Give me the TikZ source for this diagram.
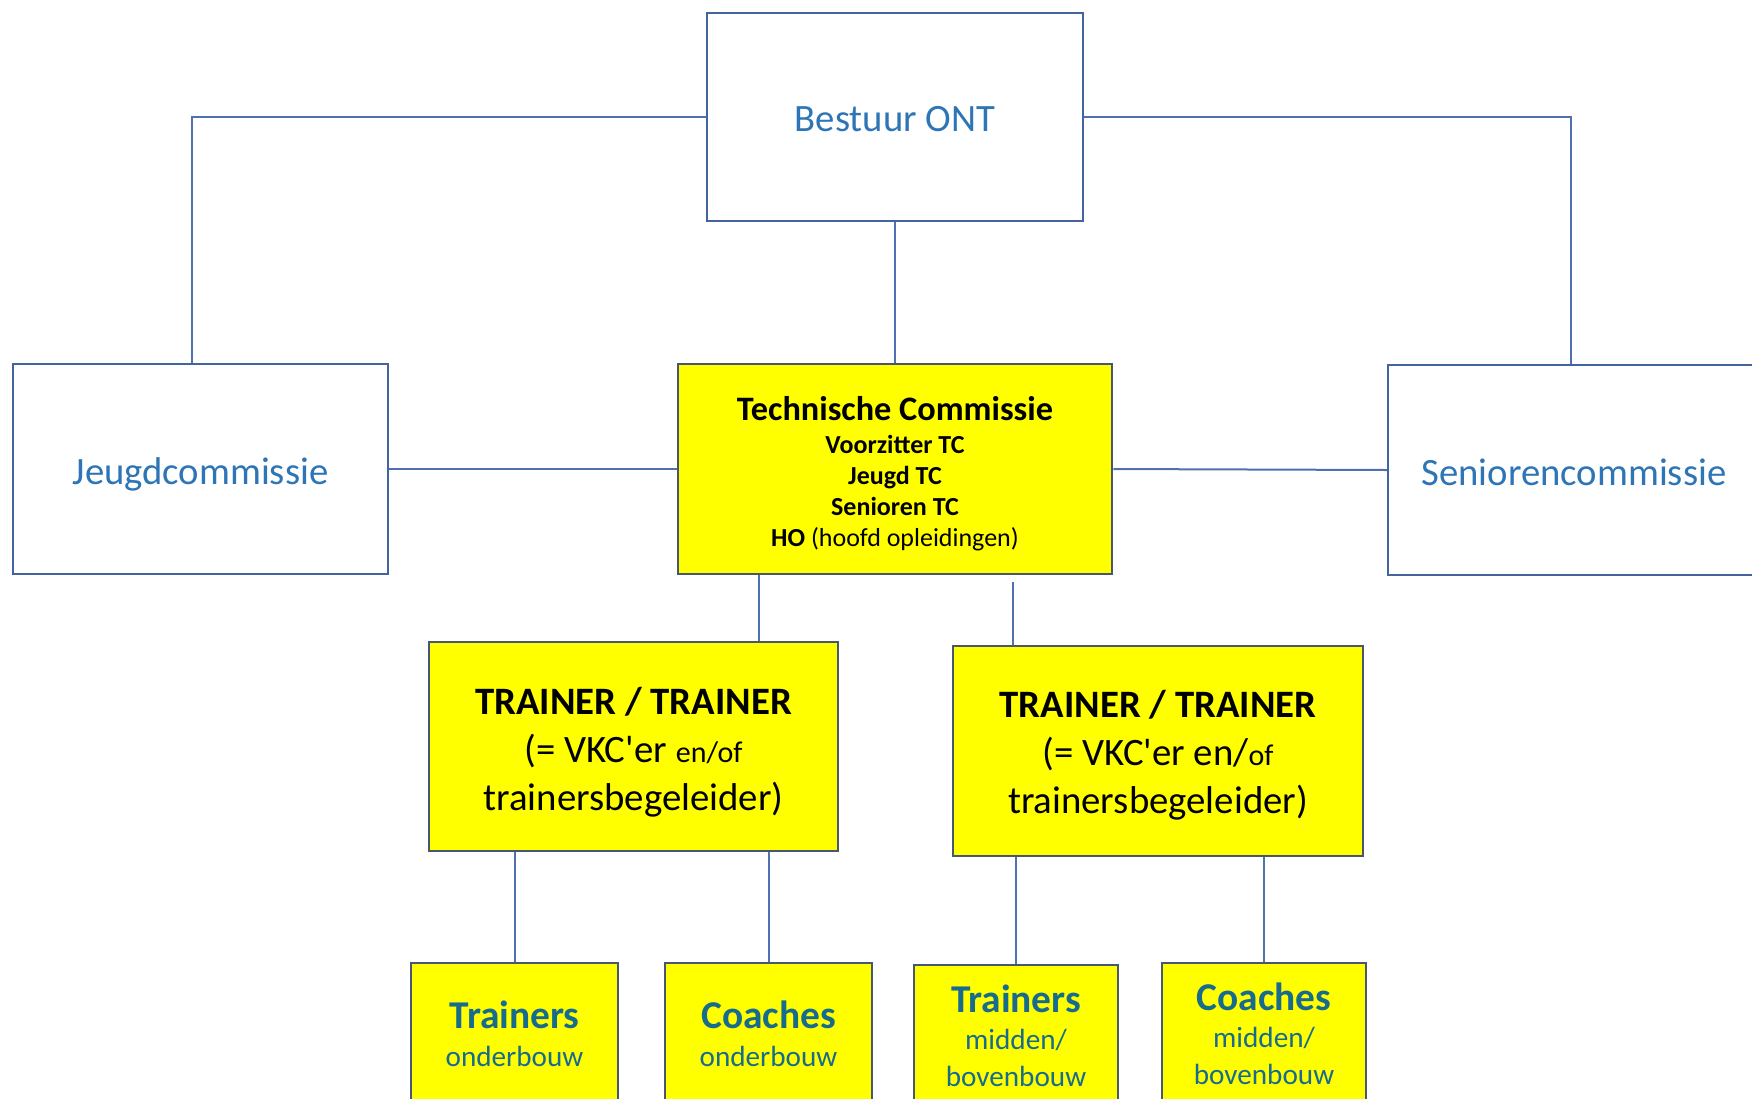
\documentclass[tikz,border=0pt]{standalone}
\usepackage{fontspec}
\setmainfont{Carlito}
\definecolor{txtblue}{RGB}{46,117,182}
\definecolor{linecol}{RGB}{79,113,178}
\definecolor{wborder}{RGB}{68,100,160}
\definecolor{yborder}{RGB}{72,86,110}
\definecolor{teal}{RGB}{23,107,140}
\definecolor{boxyellow}{RGB}{255,255,0}
\newcommand{\apo}{\XeTeXglyph\XeTeXcharglyph"0027\relax}
\tikzset{
  conn/.style={draw=linecol, line width=2pt},
  wbox/.style={draw=wborder, line width=2.5pt, fill=white, inner sep=0pt},
  ybox/.style={draw=yborder, line width=2.5pt, fill=boxyellow, inner sep=0pt},
  wtext/.style={text=txtblue, inner sep=0pt, font=\fontsize{38.7}{46}\selectfont},
  tctext/.style={inner sep=0pt, align=center, font=\fontsize{26}{31}\selectfont\bfseries},
  trtext/.style={inner sep=0pt, align=center, font=\fontsize{38.8}{48}\selectfont},
  bottext/.style={inner sep=0pt, align=center, text=teal, font=\fontsize{29.2}{37}\selectfont},
}
\begin{document}
\begin{tikzpicture}[x=1pt,y=-1pt]
\clip (0,0) rectangle (1752,1098);
\fill[white] (0,0) rectangle (1752,1098);

% boxes
\node[wbox, minimum width=376pt, minimum height=208pt] (bestuur) at (895,117) {};
\node[wbox, minimum width=375pt, minimum height=210pt] (jeugd) at (200.5,469) {};
\node[wbox, minimum width=372pt, minimum height=210pt] (sen) at (1574,470) {};
\node[ybox, minimum width=434pt, minimum height=210pt] (tc) at (895,469) {};
\node[ybox, minimum width=409pt, minimum height=209pt] (t1) at (633.5,746.5) {};
\node[ybox, minimum width=410pt, minimum height=210pt] (t2) at (1158,751) {};
\node[ybox, minimum width=207pt, minimum height=146pt] (b1) at (514.5,1036) {};
\node[ybox, minimum width=207pt, minimum height=146pt] (b2) at (768.5,1036) {};
\node[ybox, minimum width=204pt, minimum height=144pt] (b3) at (1016,1037) {};
\node[ybox, minimum width=204pt, minimum height=144pt] (b4) at (1264,1035) {};

% texts
\node[wtext] (bestuurT) at ([yshift=-2pt]bestuur.center) {Bestuur ONT};
\node[wtext] (jeugdT) at ([yshift=-5pt]jeugd.center) {Jeugdcommissie};
\node[wtext] (senT) at ([yshift=-2pt]sen.center) {Seniorencommissie};
\node[tctext] (tcT) at ([yshift=-4.5pt]tc.center)
  {{\fontsize{34.3}{35}\selectfont Technische Commissie}\\[2pt]
   Voorzitter TC\\ Jeugd TC\\ Senioren TC\\ HO {\mdseries (hoofd opleidingen)}};
\node[trtext] (t1T) at ([yshift=-5.5pt]t1.center)
  {\textbf{TRAINER / TRAINER}\\ (= VKC\apo er {\fontsize{30}{32}\selectfont en/of}\\ trainersbegeleider)};
\node[trtext] (t2T) at ([yshift=-4.5pt]t2.center)
  {\textbf{TRAINER / TRAINER}\\ (= VKC\apo er en/{\fontsize{30}{32}\selectfont of}\\ trainersbegeleider)};
\node[bottext] (b1T) at ([yshift=2.5pt]b1.center)
  {{\fontsize{39.4}{40}\selectfont\bfseries Trainers}\\[1pt] onderbouw};
\node[bottext] (b2T) at ([yshift=2.5pt]b2.center)
  {{\fontsize{39.4}{40}\selectfont\bfseries Coaches}\\[1pt] onderbouw};
\node[bottext] (b3T) at ([yshift=1pt]b3.center)
  {{\fontsize{39.4}{40}\selectfont\bfseries Trainers}\\ midden/\\ bovenbouw};
\node[bottext] (b4T) at ([yshift=1pt]b4.center)
  {{\fontsize{39.4}{40}\selectfont\bfseries Coaches}\\ midden/\\ bovenbouw};

\coordinate (cj) at (192,0);
\coordinate (cs) at (1571,0);
\coordinate (c1) at (759,0);
\coordinate (c2) at (1013,0);

\draw[conn] (bestuur.west) -| (cj |- jeugd.north);
\draw[conn] (bestuur.east) -| (cs |- sen.north);
\draw[conn] (bestuur.south) -- (tc.north);
\draw[conn] (jeugd.east) -- (tc.west);
\draw[conn] (tc.east) -- (sen.west);
\draw[conn] (c1 |- tc.south) -- (c1 |- t1.north);
\draw[conn] (c2 |- tc.south) ++(0,7) -- (c2 |- t2.north);
\draw[conn] (b1.north |- t1.south) -- (b1.north);
\draw[conn] (b2.north |- t1.south) -- (b2.north);
\draw[conn] (b3.north |- t2.south) -- (b3.north);
\draw[conn] (b4.north |- t2.south) -- (b4.north);
\end{tikzpicture}
\end{document}
